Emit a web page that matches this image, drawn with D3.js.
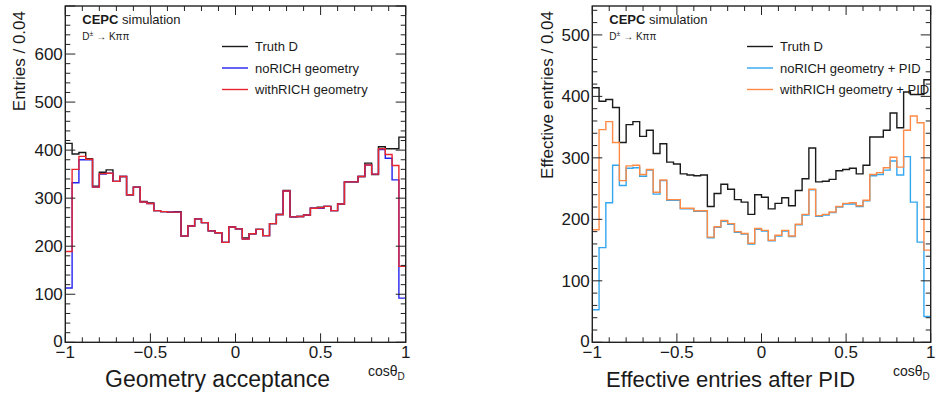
<!DOCTYPE html>
<meta charset="utf-8">
<style>
body { margin: 0; background: #fff; }
svg text { font-family: "Liberation Sans", Arial, Helvetica, sans-serif; fill: #1a1a1a; }
</style>
<body>
<div id="chart"></div>
<script src="https://d3js.org/d3.v7.min.js"></script>
<script>

// 50 bins of cos(theta_D) from -1 to 1, width 0.04
var nBins = 50;

var truthD = [414, 392, 395, 382, 325, 354, 359, 335, 345, 307,
              323, 293, 290, 274, 272, 271, 272, 221, 242, 257,
              249, 232, 228, 208, 240, 236, 217, 226, 235, 222,
              247, 266, 316, 261, 262, 265, 279, 281, 283, 274,
              288, 334, 334, 345, 373, 349, 407, 403, 403, 427];

var noRichGeo = [113, 332, 380, 380, 323, 350, 352, 335, 345, 307,
                 323, 292, 289, 274, 272, 271, 271, 221, 242, 257,
                 249, 232, 228, 208, 240, 236, 215, 226, 235, 222,
                 247, 266, 315, 261, 262, 265, 279, 279, 283, 274,
                 288, 334, 334, 345, 369, 350, 401, 383, 338, 92];

var withRichGeo = [189, 360, 387, 381, 323, 351, 352, 335, 345, 307,
                   323, 292, 289, 274, 272, 271, 271, 221, 242, 257,
                   249, 232, 228, 208, 240, 236, 215, 226, 235, 222,
                   247, 266, 315, 261, 262, 265, 279, 280, 283, 274,
                   288, 334, 334, 345, 369, 350, 403, 391, 368, 158];

var noRichPid = [53, 154, 227, 288, 255, 283, 284, 270, 280, 241,
                 263, 231, 231, 217, 217, 213, 213, 170, 187, 197,
                 192, 179, 176, 160, 184, 181, 165, 173, 181, 172,
                 191, 207, 248, 205, 207, 211, 220, 225, 225, 221,
                 230, 271, 273, 280, 295, 272, 302, 228, 163, 42];

var withRichPid = [183, 346, 359, 325, 263, 287, 288, 273, 281, 244,
                   264, 232, 232, 218, 218, 214, 214, 171, 188, 198,
                   193, 180, 177, 161, 185, 182, 166, 174, 182, 173,
                   192, 208, 249, 206, 208, 212, 221, 226, 227, 222,
                   231, 273, 276, 284, 301, 285, 345, 368, 357, 150];

var xTicks = [-1, -0.5, 0, 0.5, 1];
var yTicksLeft = [0, 100, 200, 300, 400, 500, 600];
var yTicksRight = [0, 100, 200, 300, 400, 500];

var width = 936,
    height = 394;

var svg = d3.select("#chart").append("svg")
    .attr("width", width)
    .attr("height", height);

var fmt = function(v) { return v < 0 ? "\u2212" + Math.abs(v) : String(v); };

function histPath(values, x, y) {
  var w = 2 / nBins;
  var pts = [[-1, 0]];
  values.forEach(function(v, i) {
    pts.push([-1 + i * w, v], [-1 + (i + 1) * w, v]);
  });
  pts.push([1, 0]);
  return d3.line().x(d => x(d[0])).y(d => y(d[1]))(pts);
}

function drawPanel(p) {
  var g = svg.append("g");
  var x = d3.scaleLinear().domain([-1, 1]).range([p.left, p.right]);
  var y = d3.scaleLinear().domain([0, p.yMax]).range([p.bottom, p.top]);

  var clipId = "clip" + p.id;
  svg.append("clipPath").attr("id", clipId)
    .append("rect")
      .attr("x", p.left).attr("y", p.top)
      .attr("width", p.right - p.left).attr("height", p.bottom - p.top);

  // histograms
  p.series.forEach(function(s) {
    g.append("path")
      .attr("d", histPath(s.values, x, y))
      .attr("clip-path", "url(#" + clipId + ")")
      .attr("fill", "none")
      .attr("stroke", s.color)
      .attr("stroke-width", 1.4);
  });

  // frame
  g.append("rect")
    .attr("x", p.left).attr("y", p.top)
    .attr("width", p.right - p.left).attr("height", p.bottom - p.top)
    .attr("fill", "none").attr("stroke", "#222").attr("stroke-width", 1.4);

  // x ticks, bottom and top
  var xMinor = d3.range(-10, 11).map(d => d / 10);
  xMinor.forEach(function(t) {
    var major = xTicks.some(m => Math.abs(m - t) < 1e-9);
    var len = major ? 9 : 5;
    g.append("line")
      .attr("x1", x(t)).attr("x2", x(t))
      .attr("y1", p.bottom).attr("y2", p.bottom - len)
      .attr("stroke", "#222").attr("stroke-width", 1);
    g.append("line")
      .attr("x1", x(t)).attr("x2", x(t))
      .attr("y1", p.top).attr("y2", p.top + len)
      .attr("stroke", "#222").attr("stroke-width", 1);
  });

  // y ticks, left and right
  d3.range(0, p.yMax + 1e-9, 20).forEach(function(t) {
    var len = (t % 100 === 0) ? 10 : 5;
    g.append("line")
      .attr("x1", p.left).attr("x2", p.left + len)
      .attr("y1", y(t)).attr("y2", y(t))
      .attr("stroke", "#222").attr("stroke-width", 1);
    g.append("line")
      .attr("x1", p.right).attr("x2", p.right - len)
      .attr("y1", y(t)).attr("y2", y(t))
      .attr("stroke", "#222").attr("stroke-width", 1);
  });

  // tick labels
  g.selectAll(".xlab").data(xTicks).enter().append("text")
    .attr("x", d => x(d)).attr("y", p.bottom + 15.5)
    .attr("text-anchor", "middle")
    .style("font-size", "17px")
    .text(fmt);

  g.selectAll(".ylab").data(p.yTicks).enter().append("text")
    .attr("x", p.left - 2.5).attr("y", d => y(d) + (d === 0 ? 4.5 : 6))
    .attr("text-anchor", "end")
    .style("font-size", "17px")
    .text(d => d);

  // y title
  g.append("text")
    .attr("transform", "translate(" + p.yTitleX + "," + (p.top + 5) + ") rotate(-90)")
    .attr("text-anchor", "end")
    .style("font-size", "17px")
    .text(p.yTitle);

  // x title
  g.append("text")
    .attr("x", p.xTitleX).attr("y", 387)
    .style("font-size", p.xTitleSize + "px")
    .text(p.xTitle);

  var cos = g.append("text")
    .attr("x", p.right - 1).attr("y", 376)
    .attr("text-anchor", "end")
    .style("font-size", "14px");
  cos.append("tspan").text("cos\u03b8");
  cos.append("tspan").attr("dy", 4).style("font-size", "10px").text("D");

  // labels
  var lab = g.append("text")
    .attr("x", p.left + 17).attr("y", 24)
    .style("font-size", "13px");
  lab.append("tspan").style("font-weight", "bold").text("CEPC");
  lab.append("tspan").text(" simulation");

  var dec = g.append("text")
    .attr("x", p.left + 17).attr("y", 40)
    .style("font-size", "10px");
  dec.append("tspan").text("D");
  dec.append("tspan").attr("dy", -4).style("font-size", "7px").text("\u00b1");
  dec.append("tspan").attr("dy", 4).text(" \u2192 K\u03c0\u03c0");

  // legend
  p.series.forEach(function(s, i) {
    var ly = 46.5 + i * 21.5;
    g.append("line")
      .attr("x1", p.legendX).attr("x2", p.legendX + 26)
      .attr("y1", ly).attr("y2", ly)
      .attr("stroke", s.color).attr("stroke-width", 1.4);
    g.append("text")
      .attr("x", p.legendX + 33).attr("y", ly + 4.5)
      .style("font-size", "13px")
      .text(s.name);
  });
}

drawPanel({
  id: "L", left: 65.3, right: 405.7, top: 6, bottom: 342.3, yMax: 700,
  yTicks: yTicksLeft, yTitle: "Entries / 0.04", yTitleX: 25,
  xTitle: "Geometry acceptance", xTitleX: 105, xTitleSize: 23,
  legendX: 222,
  series: [
    {name: "Truth D", values: truthD, color: "#1a1a1a"},
    {name: "noRICH geometry", values: noRichGeo, color: "#2222ee"},
    {name: "withRICH geometry", values: withRichGeo, color: "#e8262e"}
  ]
});

drawPanel({
  id: "R", left: 592.3, right: 930.7, top: 6, bottom: 342.3, yMax: 547,
  yTicks: yTicksRight, yTitle: "Effective entries / 0.04", yTitleX: 553,
  xTitle: "Effective entries after PID", xTitleX: 606, xTitleSize: 22,
  legendX: 747,
  series: [
    {name: "Truth D", values: truthD, color: "#1a1a1a"},
    {name: "noRICH geometry + PID", values: noRichPid, color: "#33a6ee"},
    {name: "withRICH geometry + PID", values: withRichPid, color: "#ff8a45"}
  ]
});

</script>
</body>
